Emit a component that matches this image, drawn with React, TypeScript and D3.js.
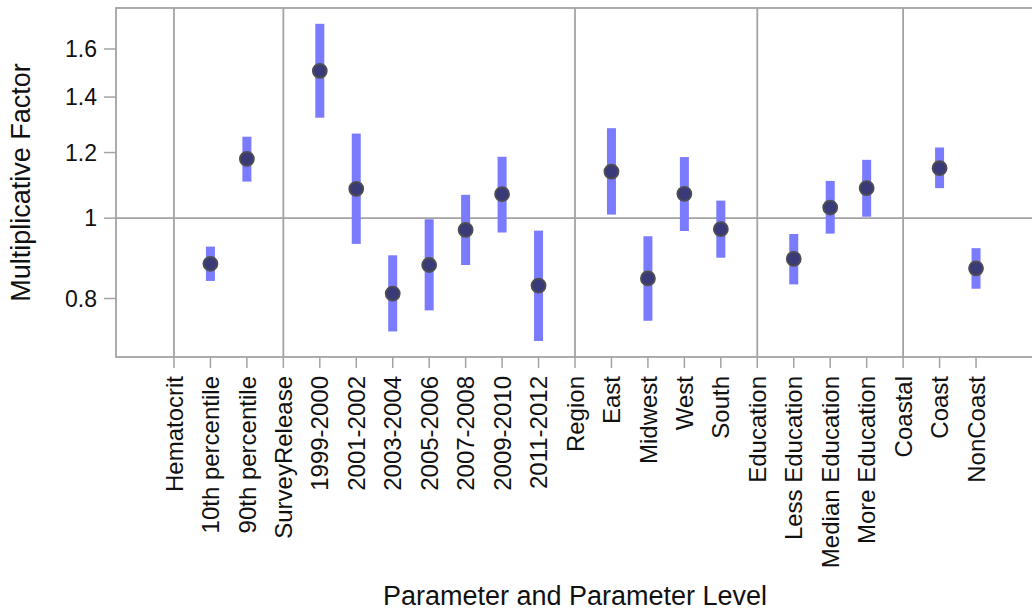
import React from 'react';
import * as d3 from 'd3';

// parameter levels along the x axis (group headers have no estimate)
const levels = [
  'Hematocrit', '10th percentile', '90th percentile',
  'SurveyRelease', '1999-2000', '2001-2002', '2003-2004', '2005-2006', '2007-2008', '2009-2010', '2011-2012',
  'Region', 'East', 'Midwest', 'West', 'South',
  'Education', 'Less Education', 'Median Education', 'More Education',
  'Coastal', 'Coast', 'NonCoast',
];
const groupHeaders = ['Hematocrit', 'SurveyRelease', 'Region', 'Education', 'Coastal'];

// estimates and interval bounds
const estLevels = [
  '10th percentile', '90th percentile',
  '1999-2000', '2001-2002', '2003-2004', '2005-2006', '2007-2008', '2009-2010', '2011-2012',
  'East', 'Midwest', 'West', 'South',
  'Less Education', 'Median Education', 'More Education',
  'Coast', 'NonCoast',
];
const estimate = [0.881, 1.179, 1.506, 1.085, 0.811, 0.878, 0.968, 1.069, 0.829, 1.138, 0.846, 1.07, 0.97, 0.893, 1.03, 1.087, 1.149, 0.87];
const lower = [0.84, 1.107, 1.322, 0.931, 0.73, 0.774, 0.878, 0.961, 0.711, 1.01, 0.752, 0.965, 0.896, 0.832, 0.958, 1.004, 1.087, 0.822];
const upper = [0.924, 1.254, 1.716, 1.265, 0.902, 0.997, 1.067, 1.186, 0.966, 1.284, 0.951, 1.185, 1.05, 0.957, 1.109, 1.176, 1.217, 0.92];

const yTicks = [0.8, 1, 1.2, 1.4, 1.6];

const W = 1032, H = 614;
const margin = {top: 8, right: -2, bottom: 257, left: 116};
const font = '"Liberation Sans", Arial, sans-serif';
const gridColor = '#a3a3a3';

export default function App() {
  const x = d3.scalePoint<string>()
    .domain(levels)
    .range([margin.left, W - margin.right])
    .padding(1.59);
  const y = d3.scaleLog()
    .domain([0.68, 1.793])
    .range([H - margin.bottom, margin.top]);

  const bottom = H - margin.bottom;
  const right = W - margin.right;

  return (
    <svg width={W} height={H} style={{position: 'absolute', left: 0, top: 0, background: '#fff'}}>
      {/* group separators */}
      {groupHeaders.map(g => (
        <line key={g} x1={x(g)} x2={x(g)} y1={margin.top} y2={bottom} stroke={gridColor} strokeWidth={1.8} />
      ))}
      {/* reference line at 1 */}
      <line x1={margin.left} x2={right} y1={y(1)} y2={y(1)} stroke={gridColor} strokeWidth={1.8} />

      {/* frame */}
      <rect x={margin.left} y={margin.top} width={right - margin.left} height={bottom - margin.top}
        fill="none" stroke={gridColor} strokeWidth={1.8} />

      {/* y ticks */}
      {yTicks.map(t => (
        <g key={t}>
          <line x1={margin.left - 12} x2={margin.left} y1={y(t)} y2={y(t)} stroke={gridColor} strokeWidth={1.5} />
          <text x={margin.left - 19} y={y(t)} dy="0.36em" textAnchor="end" fontFamily={font} fontSize={23} fill="#111">
            {d3.format('~g')(t)}
          </text>
        </g>
      ))}

      {/* x ticks */}
      {levels.map(l => (
        <g key={l}>
          <line x1={x(l)} x2={x(l)} y1={bottom} y2={bottom + 11} stroke={gridColor} strokeWidth={1.5} />
          <text transform={`translate(${x(l)},${bottom + 19}) rotate(-90)`} dy="0.36em" textAnchor="end"
            fontFamily={font} fontSize={24} fill="#111">{l}</text>
        </g>
      ))}

      {/* interval bars */}
      {estLevels.map((l, i) => (
        <rect key={l} x={(x(l) as number) - 4.5} width={9} y={y(upper[i])} height={y(lower[i]) - y(upper[i])}
          fill="#7b7bff" />
      ))}
      {/* estimates */}
      {estLevels.map((l, i) => (
        <circle key={l} cx={x(l)} cy={y(estimate[i])} r={7} fill="#3a3a78" stroke="#4f4f4f" strokeWidth={1.8} />
      ))}

      {/* axis titles */}
      <text transform={`translate(30,${(margin.top + bottom) / 2}) rotate(-90)`} textAnchor="middle"
        fontFamily={font} fontSize={27} fill="#111">Multiplicative Factor</text>
      <text x={(margin.left + right) / 2} y={605} textAnchor="middle" fontFamily={font} fontSize={27} fill="#111">
        Parameter and Parameter Level
      </text>
    </svg>
  );
}
